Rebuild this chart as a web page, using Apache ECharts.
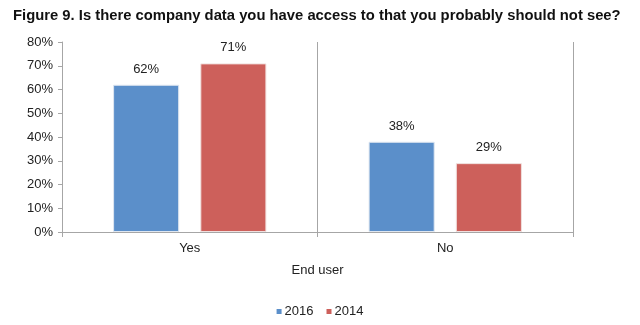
<!DOCTYPE html>
<html><head><meta charset="utf-8">
<script src="https://cdn.jsdelivr.net/npm/echarts@6/dist/echarts.min.js"></script>
<style>html,body{margin:0;padding:0;background:#fff}#c{width:640px;height:325px}</style>
</head><body><div id="c"></div>
<script>
const categories = ['Yes', 'No'];
const series2016 = [62, 38];
const series2014 = [71, 29];
const yTicks = [0, 10, 20, 30, 40, 50, 60, 70, 80];

const chart = echarts.init(document.getElementById('c'), null, {renderer: 'canvas'});
const font = 'Liberation Sans, Arial, sans-serif';
chart.setOption({
  animation: false,
  title: {
    text: 'Figure 9. Is there company data you have access to that you probably should not see?',
    left: 8, top: 3,
    textStyle: {fontFamily: font, fontSize: 14.8, fontWeight: 'bold', color: '#111'}
  },
  legend: {
    bottom: 2, left: 'center',
    icon: 'rect', itemWidth: 5, itemHeight: 5, itemGap: 13,
    itemStyle: {borderWidth: 0},
    textStyle: {fontFamily: font, fontSize: 13, color: '#222', padding: [0, 0, 0, -2]},
    data: ['2016', '2014']
  },
  grid: {left: 62, right: 67, top: 42, bottom: 93},
  xAxis: {
    type: 'category', data: categories,
    name: 'End user', nameLocation: 'middle', nameGap: 32,
    nameTextStyle: {fontFamily: font, fontSize: 13, color: '#222'},
    axisLine: {lineStyle: {color: '#a6a6a6'}},
    axisTick: {show: true, length: 5, lineStyle: {color: '#a6a6a6'}},
    axisLabel: {fontFamily: font, fontSize: 13, color: '#222', margin: 10},
    splitLine: {show: true, lineStyle: {color: '#a6a6a6'}}
  },
  yAxis: {
    type: 'value', min: 0, max: 80, interval: 10,
    axisLine: {show: true, lineStyle: {color: '#a6a6a6'}},
    axisTick: {show: true, length: 4, lineStyle: {color: '#a6a6a6'}},
    axisLabel: {fontFamily: font, fontSize: 13, color: '#222', margin: 9,
      formatter: (v) => yTicks.includes(v) ? v + '%' : ''},
    splitLine: {show: false}
  },
  series: [
    {name: '2016', type: 'bar', data: series2016, barGap: '32%', barCategoryGap: '40%',
     itemStyle: {color: '#5b8fca', borderColor: '#dfe7f1', borderWidth: 1},
     label: {show: true, position: 'top', distance: 9, formatter: '{c}%',
       fontFamily: font, fontSize: 13, color: '#222'}},
    {name: '2014', type: 'bar', data: series2014,
     itemStyle: {color: '#cd605b', borderColor: '#f1e0df', borderWidth: 1},
     label: {show: true, position: 'top', distance: 9, formatter: '{c}%',
       fontFamily: font, fontSize: 13, color: '#222'}}
  ]
});
</script></body></html>
